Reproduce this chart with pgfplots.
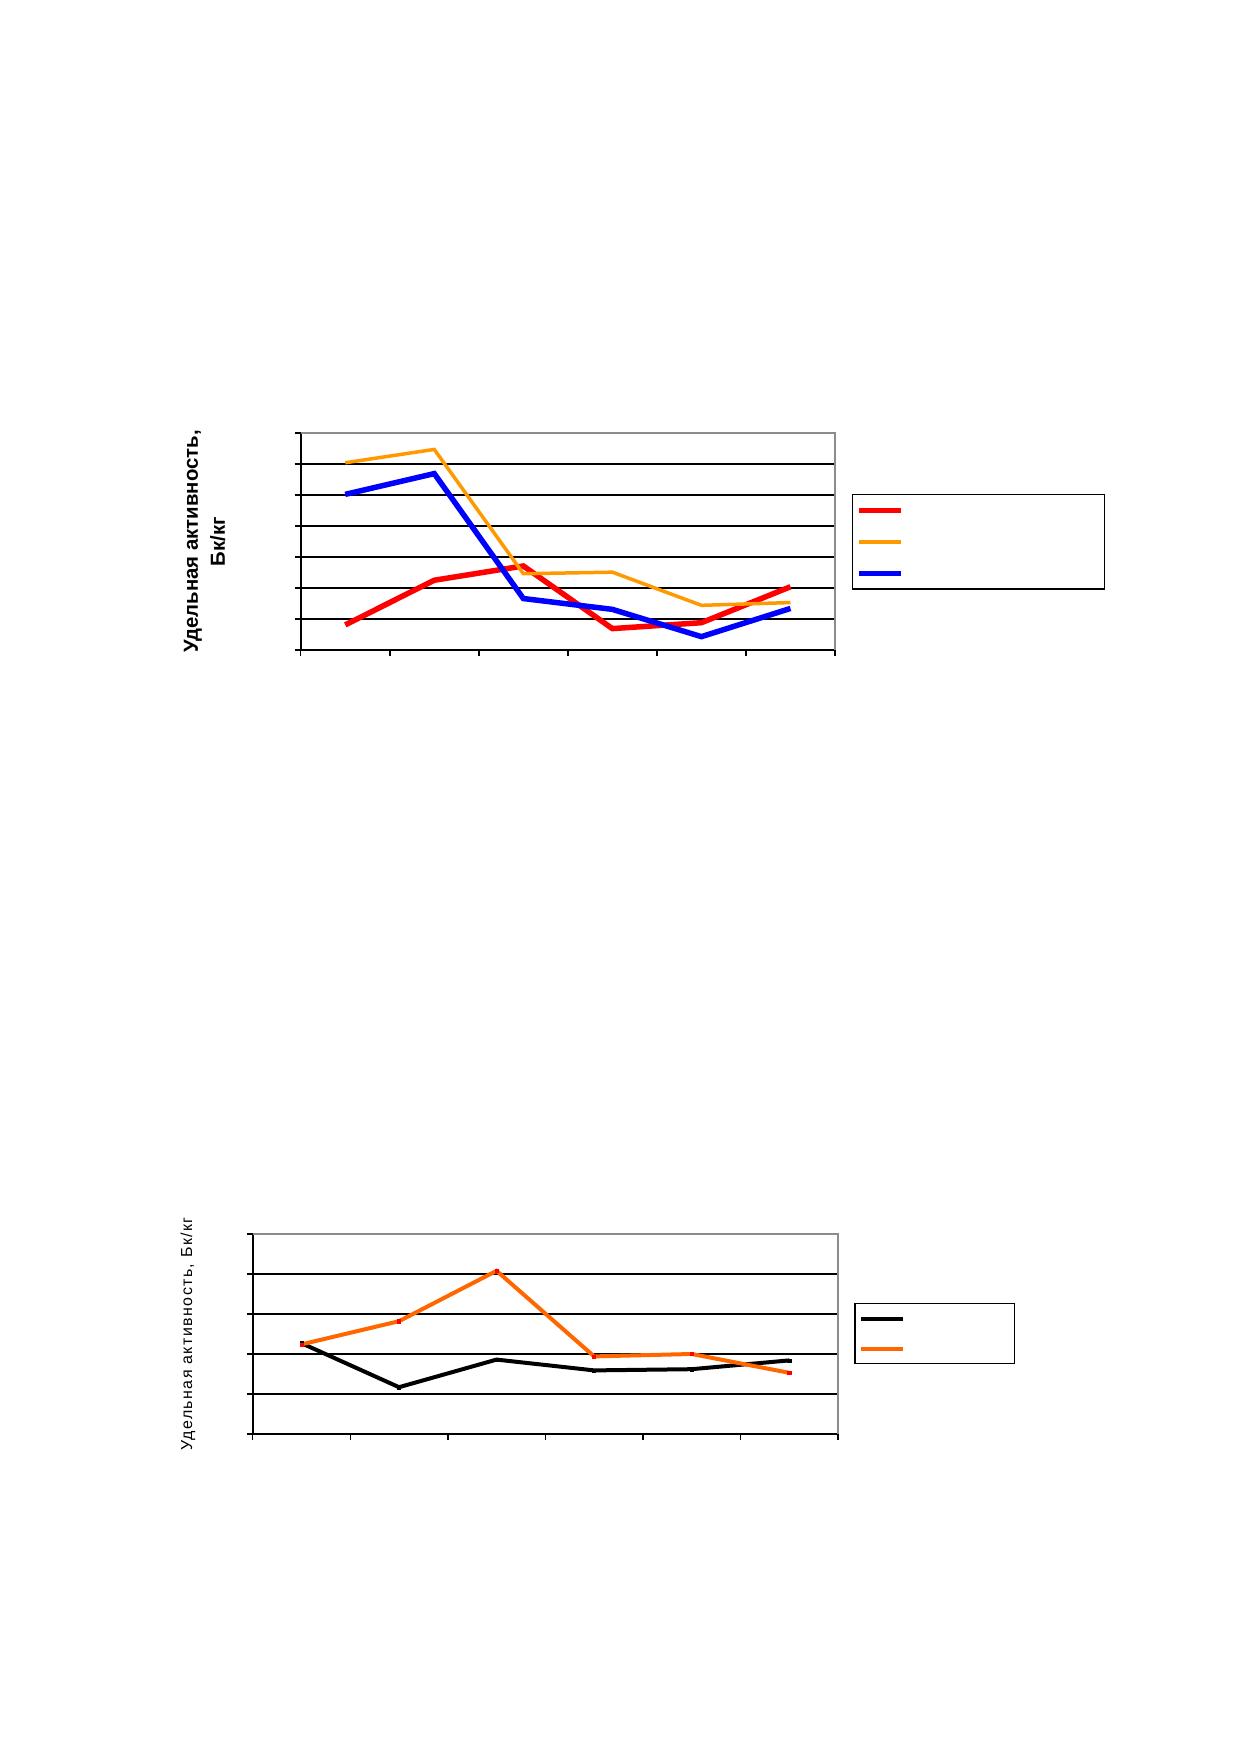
\documentclass[border=0pt]{standalone}
\usepackage{fontspec}
\setmainfont{Liberation Sans}
\newfontfamily\spacedfont[LetterSpace=9]{Liberation Sans}
\usepackage{pgfplots}
\pgfplotsset{compat=1.18}
\definecolor{xlorange}{RGB}{255,153,0}
\definecolor{xorange}{RGB}{255,102,0}
\definecolor{frameGray}{RGB}{140,140,140}

\pgfplotstableread{
x   red   orange blue
0.5 0.81  6.04   5.02
1.5 2.25  6.47   5.69
2.5 2.71  2.46   1.66
3.5 0.69  2.51   1.31
4.5 0.88  1.44   0.43
5.5 2.04  1.53   1.34
}\topdata

\pgfplotstableread{
x   black orange
0.5 2.27  2.24
1.5 1.17  2.82
2.5 1.86  4.08
3.5 1.59  1.94
4.5 1.62  2.00
5.5 1.84  1.53
}\botdata

\pgfplotsset{
  commonax/.style={
    scale only axis, clip=false,
    xmin=0, xmax=6, xtick={0,...,6}, xticklabels={}, yticklabels={},
    axis x line*=bottom, axis y line*=left,
    axis line style={line width=2bp, -},
    tick align=outside, major tick length=6bp,
    tick style={line width=1.5bp, black},
    ymajorgrids, grid style={line width=2bp, black},
    legend cell align=left,
    legend image code/.code={\draw[##1] (0bp,0bp) -- (42bp,0bp);},
  }
}

\begin{document}
\begin{tikzpicture}
\path[use as bounding box] (0,0) rectangle (1239bp,1752bp);

% ---------- top chart ----------
\begin{axis}[commonax,
  at={(300.7bp,1102bp)}, anchor=south west,
  width=534.3bp, height=217bp,
  ymin=0, ymax=7, ytick={0,...,7},
  ylabel={Удельная активность,\\Бк/кг},
  ylabel style={at={(axis description cs:-0.18,0.5)}, anchor=center,
    font=\fontsize{20.4}{27}\selectfont\bfseries, align=center},
  legend style={at={(axis description cs:1.0318,0.719)}, anchor=north west,
    draw=black, line width=1.5bp, inner xsep=4bp, inner ysep=0bp,
    row sep=0bp, column sep=4bp,
    nodes={inner sep=0pt, minimum height=31.5bp}},
]
\addplot[red, line width=5.5bp] table[x=x,y=red]{\topdata};
\addlegendentry{\hspace*{192.5bp}}
\addplot[xlorange, line width=3.5bp] table[x=x,y=orange]{\topdata};
\addlegendentry{\hspace*{192.5bp}}
\addplot[blue, line width=5.5bp] table[x=x,y=blue]{\topdata};
\addlegendentry{\hspace*{192.5bp}}
\draw[frameGray, line width=2bp] (rel axis cs:0,1) -- (rel axis cs:1,1) -- (rel axis cs:1,0);
\end{axis}

% ---------- bottom chart ----------
\begin{axis}[commonax,
  at={(252.7bp,318bp)}, anchor=south west,
  width=585.3bp, height=200bp,
  ymin=0, ymax=5, ytick={0,...,5},
  ylabel={Удельная активность, Бк/кг},
  ylabel style={at={(axis description cs:-0.1105,0.5)}, anchor=center,
    font=\spacedfont\fontsize{16}{20}\selectfont},
  legend style={at={(axis description cs:1.0274,0.655)}, anchor=north west,
    draw=black, line width=1.5bp, inner xsep=4bp, inner ysep=0bp,
    row sep=0bp, column sep=4bp,
    nodes={inner sep=0pt, minimum height=30bp}},
]
\addplot[black, line width=4bp, mark=square*, mark size=1.6bp,
  mark options={black, line width=0.5bp}] table[x=x,y=black]{\botdata};
\addlegendentry{\hspace*{101.5bp}}
\addplot[xorange, line width=4bp, mark=square*, mark size=1.6bp,
  mark options={red, line width=0.5bp}] table[x=x,y=orange]{\botdata};
\addlegendentry{\hspace*{101.5bp}}
\draw[frameGray, line width=2bp] (rel axis cs:0,1) -- (rel axis cs:1,1) -- (rel axis cs:1,0);
\end{axis}
\end{tikzpicture}
\end{document}
